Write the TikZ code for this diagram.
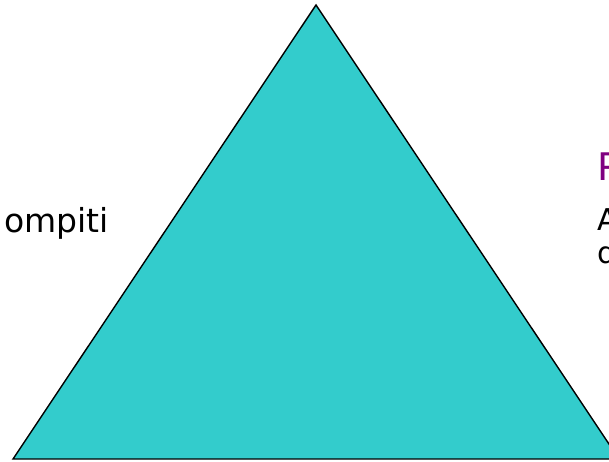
\documentclass[tikz,border=0pt]{standalone}
\usepackage{fontspec}
\setmainfont{DejaVu Sans}
\definecolor{tealfill}{RGB}{51,204,204}
\definecolor{headpurple}{RGB}{128,0,128}

\begin{document}
\begin{tikzpicture}[x=1pt,y=-1pt]
	\useasboundingbox (0,0) rectangle (609,461);
	\clip (0,0) rectangle (609,461);
	\coordinate (top) at (316,5);
	\coordinate (left) at (13,459);
	\coordinate (right) at (619,459);
	\draw[fill=tealfill, line width=1.4pt, line join=miter] (top) -- (left) -- (right) -- cycle;
	\node[anchor=base east, inner sep=0pt, font=\fontsize{33}{40}\selectfont] (tasks) at (109,232) {ompiti};
	\node[anchor=base west, inner sep=0pt, text=headpurple, font=\fontsize{38}{46}\selectfont] (head) at (597,180) {P};
	\node[anchor=base west, inner sep=0pt, font=\fontsize{30}{36}\selectfont] (lineA) at (597,230) {A};
	\node[anchor=base west, inner sep=0pt, font=\fontsize{30}{36}\selectfont] (lineD) at (597,263) {d};
\end{tikzpicture}
\end{document}
